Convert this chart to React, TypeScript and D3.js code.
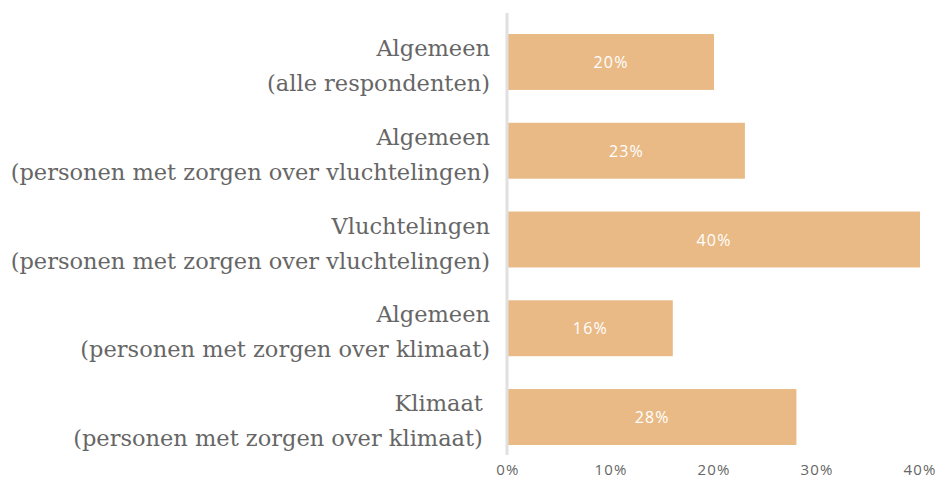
import { useEffect, useRef } from "react";
import * as d3 from "d3";

const categories = [
  ["Algemeen", "(alle respondenten)"],
  ["Algemeen", "(personen met zorgen over vluchtelingen)"],
  ["Vluchtelingen", "(personen met zorgen over vluchtelingen)"],
  ["Algemeen", "(personen met zorgen over klimaat)"],
  ["Klimaat\u00a0", "(personen met zorgen over klimaat)\u00a0"],
];
const values = [20, 23, 40, 16, 28];
const ticks = [0, 10, 20, 30, 40];

const App = () => {
  const ref = useRef<SVGSVGElement>(null);

  useEffect(() => {
    const svg = d3.select(ref.current);
    svg.selectAll("*").remove();

    const x = d3.scaleLinear().domain([0, 40]).range([508, 920]);
    const y = d3
      .scaleBand<number>()
      .domain(d3.range(values.length))
      .range([17.6, 461.4])
      .paddingInner(0.37)
      .paddingOuter(0.185);

    svg.append("g")
      .selectAll("rect")
      .data(values)
      .enter()
      .append("rect")
      .attr("x", x(0))
      .attr("y", (d, i) => y(i)!)
      .attr("width", (d) => x(d) - x(0))
      .attr("height", y.bandwidth())
      .attr("fill", "#e9ba86");

    svg.append("line")
      .attr("x1", x(0) - 1)
      .attr("x2", x(0) - 1)
      .attr("y1", 13)
      .attr("y2", 455)
      .attr("stroke", "#e0e0e0")
      .attr("stroke-width", 3);

    svg.append("g")
      .selectAll("text")
      .data(values)
      .enter()
      .append("text")
      .attr("x", (d) => (x(0) + x(d)) / 2)
      .attr("y", (d, i) => y(i)! + y.bandwidth() / 2 + 6)
      .attr("text-anchor", "middle")
      .attr("fill", "#ffffff")
      .style("font-family", "'Open Sans', sans-serif")
      .style("font-size", "16px")
      .style("letter-spacing", "1.2px")
      .text((d) => `${d}%`);

    const labels = svg.append("g")
      .selectAll("text")
      .data(categories)
      .enter()
      .append("text")
      .attr("text-anchor", "end")
      .attr("fill", "#666666")
      .style("font-family", "'DejaVu Serif', serif")
      .style("font-size", "22.5px")
      .style("white-space", "pre");
    labels.append("tspan")
      .attr("x", 490)
      .attr("y", (d, i) => y(i)! + y.bandwidth() / 2 - 6)
      .text((d) => d[0]);
    labels.append("tspan")
      .attr("x", 490)
      .attr("y", (d, i) => y(i)! + y.bandwidth() / 2 + 29)
      .text((d) => d[1]);

    svg.append("g")
      .selectAll("text")
      .data(ticks)
      .enter()
      .append("text")
      .attr("x", (d) => x(d))
      .attr("y", 475)
      .attr("text-anchor", "middle")
      .attr("fill", "#666666")
      .style("font-family", "'Open Sans', sans-serif")
      .style("font-size", "15px")
      .style("letter-spacing", "1.2px")
      .text((d) => `${d}%`);
  });

  return (
    <svg
      ref={ref}
      width={942}
      height={482}
      style={{ position: "absolute", left: 0, top: 0 }}
    />
  );
};

export default App;
